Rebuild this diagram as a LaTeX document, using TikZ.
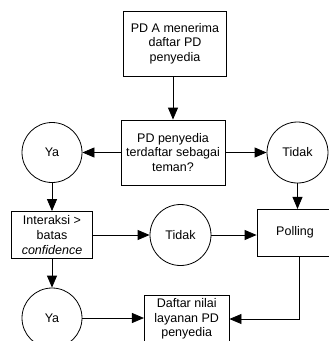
\documentclass[tikz,border=0pt]{standalone}
\usepackage{fontspec}
\setmainfont{Liberation Sans}
\usetikzlibrary{arrows.meta}
\begin{document}
\begin{tikzpicture}[x=1pt,y=-1pt,
  every node/.style={font=\fontsize{12.5}{14.6}\selectfont, align=center, inner sep=0pt},
  box/.style={draw, line width=0.8pt, rectangle},
  circ/.style={draw, line width=0.8pt, circle, minimum size=60pt},
  arr/.style={-{Triangle[length=12pt,width=10pt]}, line width=0.8pt}]
\useasboundingbox (0,0) rectangle (329,341);
\clip (0,0) rectangle (329,341);
\node[box, minimum width=103.4pt, minimum height=65pt] (top) at (175,43.5) {PD A menerima\\daftar PD\\penyedia};
\node[box, minimum width=104pt, minimum height=65pt] (q) at (173,152.5) {PD penyedia\\terdaftar sebagai\\teman?};
\node[circ] (ya1) at (52,152.5) {Ya};
\node[circ, minimum size=61pt] (tid1) at (297.5,152.5) {Tidak};
\node[box, minimum width=80.7pt, minimum height=47pt] (int) at (52,235) {Interaksi >\\batas\\\textit{confidence}};
\node[circ, minimum size=61pt] (tid2) at (180.5,235) {Tidak};
\node[box, minimum width=76pt, minimum height=46.7pt] (poll) at (295,232.7) {Polling};
\node[circ] (ya2) at (52,318) {Ya};
\node[box, minimum width=84.7pt, minimum height=48pt] (daf) at (186.7,319) {Daftar nilai\\layanan PD\\penyedia};
\draw[arr] (q.north |- top.south) -- (q.north);
\draw[arr] (q.west) -- (ya1.east);
\draw[arr] (q.east) -- (tid1.west);
\draw[arr] (ya1.south) -- (int.north);
\draw[arr] (int.east) -- (tid2.west);
\draw[arr] (tid2.east) -- (tid2.east -| poll.west);
\draw[arr] (tid1.south) -- (tid1.south |- poll.north);
\draw[arr] ([xshift=4pt]poll.south) |- (daf.east);
\draw[arr] (int.south) -- (ya2.north);
\draw[arr] (ya2.east) -- (ya2.east -| daf.west);
\end{tikzpicture}
\end{document}
